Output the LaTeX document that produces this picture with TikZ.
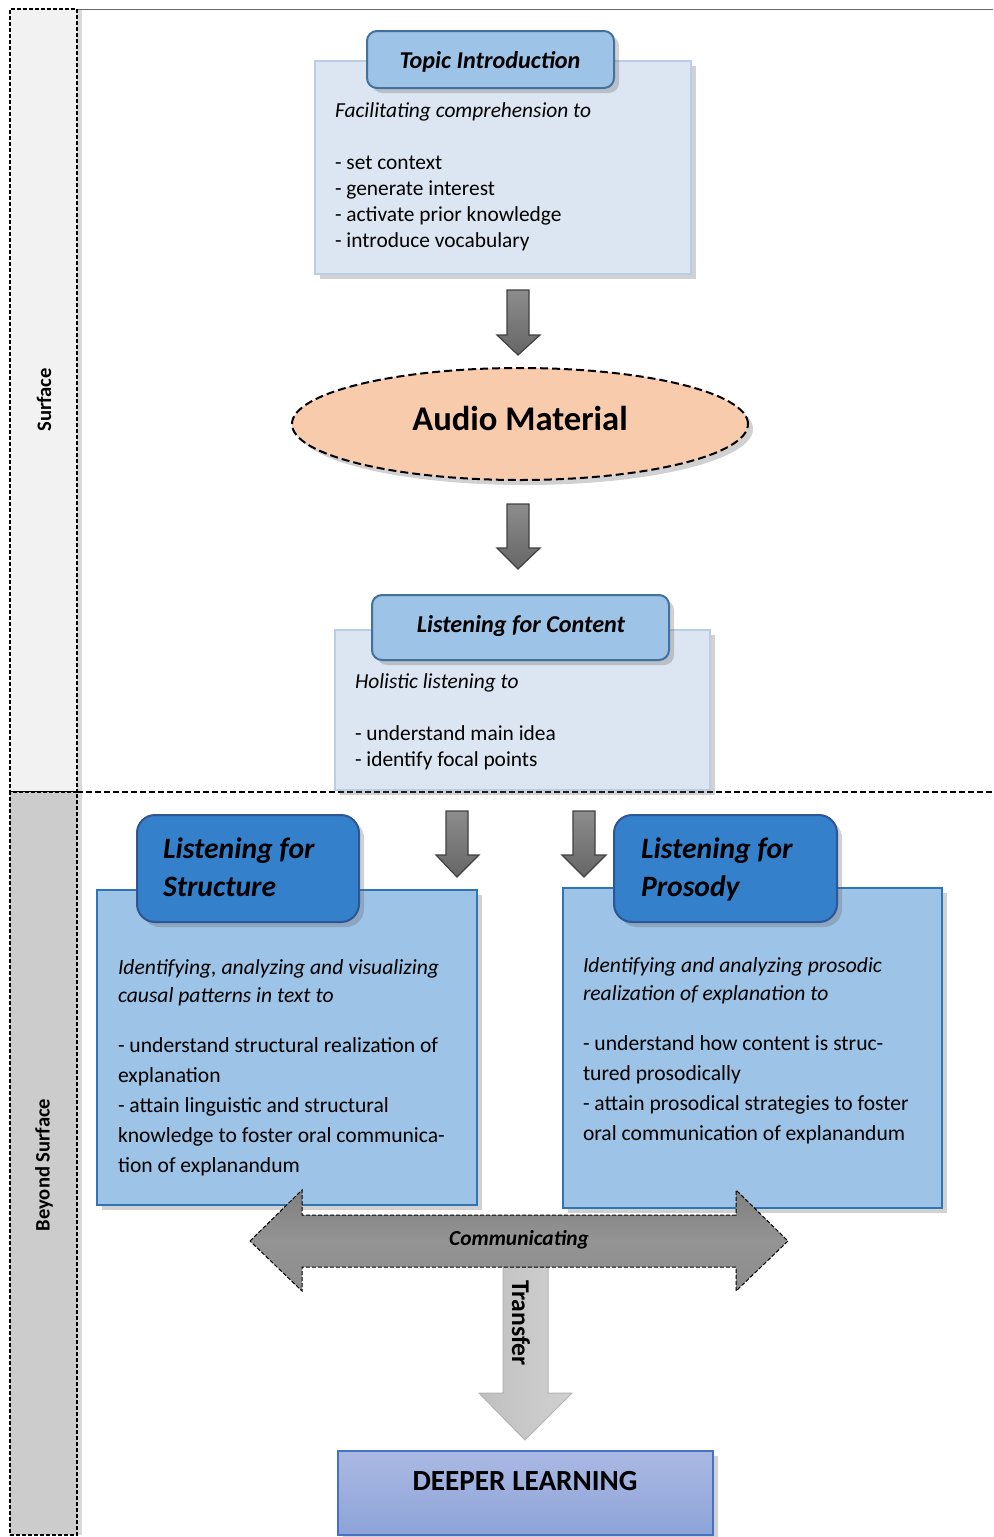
\documentclass[tikz,border=0pt]{standalone}
\usepackage{fontspec}
\setmainfont{Carlito}
\usetikzlibrary{shadows,shapes.geometric}
\definecolor{surfgray}{HTML}{F2F2F2}
\definecolor{beyondgray}{HTML}{CCCCCC}
\definecolor{lightbody}{HTML}{DCE6F2}
\definecolor{lightbodyline}{HTML}{B9CDE5}
\definecolor{lighttab}{HTML}{9DC3E6}
\definecolor{lighttabline}{HTML}{41719C}
\definecolor{darktab}{HTML}{3480CB}
\definecolor{darktabline}{HTML}{2F5597}
\definecolor{darkbody}{HTML}{9DC3E6}
\definecolor{darkbodyline}{HTML}{2E75B6}
\definecolor{audiofill}{HTML}{F8CBAD}
\definecolor{deeptop}{HTML}{AAB9E3}
\definecolor{deepbot}{HTML}{8DA3D8}
\definecolor{deepline}{HTML}{4472C4}
\begin{document}
\begin{tikzpicture}[x=0.5pt,y=-0.5pt,
  every node/.style={inner sep=0pt, outer sep=0pt},
  shad/.style={drop shadow={shadow xshift=2.5pt, shadow yshift=-2.5pt, opacity=0.3, fill=black!60}},
  colbox/.style={draw=black, line width=0.9pt, dash pattern=on 2pt off 1pt, anchor=north west,
     drop shadow={shadow xshift=2.5pt, shadow yshift=0pt, opacity=0.25, fill=black!60}},
  lbody/.style={draw=lightbodyline, line width=0.6pt, fill=lightbody, anchor=north west, shad},
  ltab/.style={draw=lighttabline, line width=1pt, fill=lighttab, rounded corners=5pt, anchor=north west, shad},
  dbody/.style={draw=darkbodyline, line width=0.7pt, fill=darkbody, anchor=north west, shad},
  dtab/.style={draw=darktabline, line width=1pt, fill=darktab, rounded corners=9pt, anchor=north west, shad},
  bodytext/.style={anchor=north west, align=left, font=\fontsize{10.7}{13}\selectfont},
  bodytextb/.style={anchor=north west, align=left, font=\fontsize{10.8}{15}\selectfont},
  tabtitle/.style={font=\fontsize{12.1}{14}\selectfont\bfseries\itshape},
  bigtitle/.style={anchor=north west, align=left, font=\fontsize{14.8}{19}\selectfont\bfseries\itshape},
  sidelabel/.style={rotate=90, font=\fontsize{10.3}{12}\selectfont\bfseries},
  garrow/.style={draw=black!75, line width=0.6pt, top color=black!45, bottom color=black!60},
  commarrow/.style={draw=black, line width=0.5pt, dash pattern=on 2pt off 1pt, top color=black!50, bottom color=black!45, middle color=black!42},
  transarrow/.style={draw=black!30, line width=0.5pt, left color=black!25, right color=black!18}
]
\useasboundingbox (0,0) rectangle (993,1537);
% top line
\coordinate (tl) at (78,9);
\coordinate (tr) at (993,9);
\draw[black!60, line width=0.5pt] (tl) -- (tr);
% left columns
\node[colbox, fill=surfgray, minimum width=33.5pt, minimum height=391.5pt] (surfcol) at (10,9) {};
\node[colbox, fill=beyondgray, minimum width=33.5pt, minimum height=371.5pt] (beyondcol) at (10,792) {};
\node[sidelabel] (surflabel) at (44,400) {Surface};
\node[sidelabel] (beyondlabel) at (44,1165) {Beyond Surface};
% separator
\coordinate (sepl) at (77,792);
\coordinate (sepr) at (993,792);
\draw[black, line width=0.6pt, dash pattern=on 3pt off 1.5pt] (sepl) -- (sepr);

% Topic introduction
\node[lbody, minimum width=188pt, minimum height=106.5pt] (topicbody) at (315,61) {};
\node[ltab, minimum width=123.5pt, minimum height=28.5pt] (topictab) at (367,31) {};
\node[tabtitle] (topictitle) at (490,62) {Topic Introduction};
\node[bodytext] (topictext) at (335,103) {\textit{Facilitating comprehension to}\\[13pt]- set context\\- generate interest\\- activate prior knowledge\\- introduce vocabulary};

% arrow 1
\draw[garrow] (507,290) -- (529,290) -- (529,335) -- (540,335) -- (518,355) -- (497,335) -- (507,335) -- cycle;

% Audio material
\node[ellipse, draw=black, line width=1pt, dash pattern=on 4pt off 2pt, fill=audiofill, minimum width=228pt, minimum height=56pt, shad] (audio) at (520,424) {};
\node[font=\fontsize{17.3}{19}\selectfont\bfseries] (audiotext) at (520,418) {Audio Material};

% arrow 2
\draw[garrow] (507,504) -- (529,504) -- (529,548) -- (540,548) -- (518,569) -- (497,548) -- (507,548) -- cycle;

% Listening for content
\node[lbody, minimum width=187.5pt, minimum height=80pt] (contentbody) at (335,630) {};
\node[ltab, minimum width=148.5pt, minimum height=32.5pt] (contenttab) at (372,595) {};
\node[tabtitle] (contenttitle) at (521,626) {Listening for Content};
\node[bodytext] (contenttext) at (355,674) {\textit{Holistic listening to}\\[13pt]- understand main idea\\- identify focal points};

% arrows 3
\draw[garrow] (446,811) -- (468,811) -- (468,855) -- (479,855) -- (457,877) -- (436,855) -- (446,855) -- cycle;
\draw[garrow] (573,811) -- (595,811) -- (595,855) -- (606,855) -- (584,877) -- (562,855) -- (573,855) -- cycle;

% Listening for structure
\node[dbody, minimum width=190pt, minimum height=157.5pt] (structbody) at (97,890) {};
\node[dtab, minimum width=111pt, minimum height=53.5pt] (structtab) at (137,815) {};
\node[bigtitle] (structtitle) at (163,838) {Listening for\\Structure};
\node[bodytextb] (structtext) at (118,959) {\textit{Identifying, analyzing and visualizing}\\[-1pt]\textit{causal patterns in text to}\\[10pt]- understand structural realization of\\explanation\\- attain linguistic and structural\\knowledge to foster oral communica-\\tion of explanandum};

% Listening for prosody
\node[dbody, minimum width=189.5pt, minimum height=160pt] (prosbody) at (563,888) {};
\node[dtab, minimum width=111.5pt, minimum height=53.5pt] (prostab) at (614,815) {};
\node[bigtitle] (prostitle) at (641,838) {Listening for\\Prosody};
\node[bodytextb] (prostext) at (583,957) {\textit{Identifying and analyzing prosodic}\\[-1pt]\textit{realization of explanation to}\\[10pt]- understand how content is struc-\\tured prosodically\\- attain prosodical strategies to foster\\oral communication of explanandum};

% Transfer arrow
\draw[transarrow] (503,1267) -- (548,1267) -- (548,1393) -- (572,1393) -- (525,1440) -- (479,1393) -- (503,1393) -- cycle;
\node[rotate=-90, font=\fontsize{12.8}{14}\selectfont\bfseries] (transfer) at (521,1323) {Transfer};

% Communicating arrow
\draw[commarrow] (250,1241) -- (302,1190) -- (302,1215) -- (736,1215) -- (736,1190) -- (788,1241) -- (736,1291) -- (736,1267) -- (302,1267) -- (302,1291) -- cycle;
\node[font=\fontsize{10.7}{12}\selectfont\bfseries\itshape] (comm) at (519,1240) {Communicating};

% Deeper learning
\node[draw=deepline, line width=0.7pt, top color=deeptop, bottom color=deepbot, minimum width=187.5pt, minimum height=42pt, anchor=north west, shad] (deeper) at (338,1451) {};
\node[font=\fontsize{14.6}{16}\selectfont\bfseries] (deepertext) at (525,1481) {DEEPER LEARNING};
\end{tikzpicture}
\end{document}
